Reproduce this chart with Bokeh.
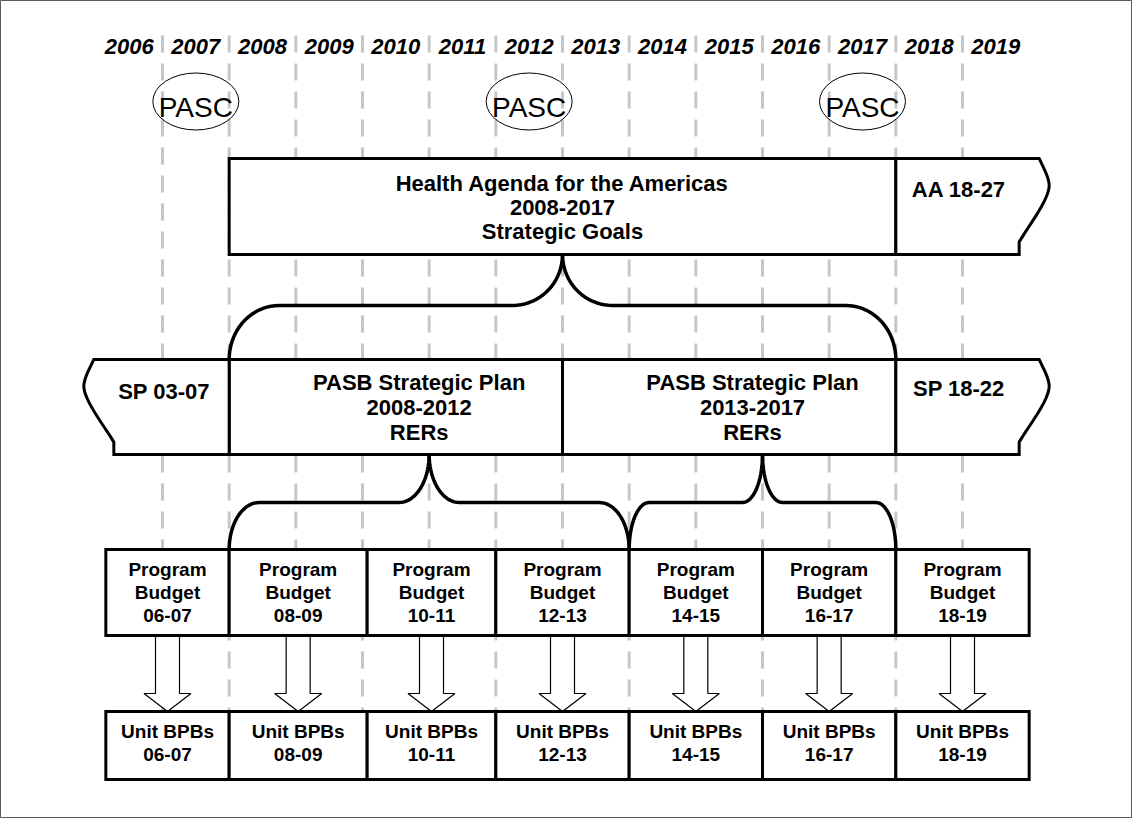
import numpy as np
from bokeh.plotting import figure
from bokeh.models import Range1d
from bokeh.core.properties import value
from bokeh.embed import file_html
from bokeh.resources import INLINE

# ---------------- data ----------------
years = list(range(2006, 2020))
year_labels = [str(y) for y in years]
divider_years = list(range(2007, 2020))
pasc_years = [2007, 2012, 2017]
pasc_text = "PASC"

agenda_start, agenda_end, agenda_cusp = 2008, 2018, 2013
agenda_lines = ["Health Agenda for the Americas", "2008-2017", "Strategic Goals"]
agenda_next_label = "AA 18-27"
agenda_next_end = 2019.85

sp_prev_label = "SP 03-07"
sp_prev_start = 2006.27
sp_starts = [2008, 2013]
sp_ends = [2013, 2018]
sp_titles = ["PASB Strategic Plan", "PASB Strategic Plan"]
sp_periods = ["2008-2012", "2013-2017"]
sp_results = ["RERs", "RERs"]
sp_next_label = "SP 18-22"
sp_next_end = 2019.85

pb_starts = [2006.15, 2008, 2010.07, 2012, 2014, 2016, 2018]
pb_ends = [2008, 2010.07, 2012, 2014, 2016, 2018, 2020]
pb_periods = ["06-07", "08-09", "10-11", "12-13", "14-15", "16-17", "18-19"]
pb_title = ["Program", "Budget"]
unit_title = "Unit BPBs"

brace_left = [2008, 2008, 2014]
brace_cusp = [2013, 2011, 2016]
brace_right = [2018, 2014, 2018]

# ---------------- layout ----------------
PX = 66.667            # pixels per year
W, H = 1132, 818
x_lo = 2007 + (8 - 170) / PX
x_hi = x_lo + W / PX

ROW_AG = (166, 262)
ROW_SP = (367, 462)
ROW_PB = (557, 643)
ROW_UN = (719, 787)
FONT = value("Liberation Sans")
TY = -7   # baseline correction for text placement

p = figure(width=W, height=H, x_range=Range1d(x_lo, x_hi), y_range=Range1d(8 + H, 8),
           x_axis_type=None, y_axis_type=None, toolbar_location=None,
           output_backend="svg", min_border=0)
p.grid.visible = False
p.outline_line_color = "#5a5a5a"
p.outline_line_width = 1
p.background_fill_color = "white"

# dashed year dividers
p.segment(x0=divider_years, y0=43, x1=divider_years, y1=790,
          line_color="#c6c6c6", line_width=3, line_dash="17 11")

# year labels
p.text(x=[y + 0.5 for y in years], y=[61 + TY] * len(years), text=year_labels,
       text_font=FONT, text_font_size="22px", text_font_style="bold italic",
       text_align="center", text_baseline="alphabetic", text_color="black")

# PASC ellipses
p.ellipse(x=[y + 0.5 for y in pasc_years], y=[109] * 3, width=86 / PX, height=57,
          fill_alpha=0, line_color="black", line_width=1)
p.text(x=[y + 0.5 for y in pasc_years], y=[120 - 5] * 3, text=[pasc_text] * 3,
       text_font=FONT, text_font_size="28px", text_align="center",
       text_baseline="alphabetic", text_color="black")


def bez(P0, P1, P2, P3, n=16):
    s = np.linspace(0, 1, n)
    b = [(1 - s) ** 3, 3 * s * (1 - s) ** 2, 3 * s ** 2 * (1 - s), s ** 3]
    o = b[0] * P0[0] + b[1] * P1[0] + b[2] * P2[0] + b[3] * P3[0]
    t = b[0] * P0[1] + b[1] * P1[1] + b[2] * P2[1] + b[3] * P3[1]
    return o, t


o1, t1 = bez((20, 0), (24, 0.09), (29, 0.18), (30, 0.27))
o2, t2 = bez((30, 0.27), (31, 0.42), (8, 0.72), (0, 0.87))
w_off = np.concatenate([o1, o2[1:], [0.0]])
w_t = np.concatenate([t1, t2[1:], [1.0]])


def right_wave(xs, base, row):
    top, bot = row
    xx = [xs] + list(base + w_off / PX) + [xs]
    yy = [top] + list(top + w_t * (bot - top)) + [bot]
    return xx, yy


def left_wave(base, xe, row):
    top, bot = row
    xx = [xe] + list(base - w_off / PX) + [xe]
    yy = [top] + list(top + w_t * (bot - top)) + [bot]
    return xx, yy


# arrows between program budgets and unit BPBs
ax, ay = [], []
hw, hh = 12 / PX, 23.5 / PX
for s, e in zip(pb_starts, pb_ends):
    c = (s + e) / 2
    ax.append([c - hw, c + hw, c + hw, c + hh, c, c - hh, c - hw])
    ay.append([ROW_PB[1], ROW_PB[1], 701, 701, ROW_UN[0], 701, 701])
p.patches(ax, ay, fill_color="white", line_color="black", line_width=1.2)

# boxes
box_style = dict(fill_color="white", line_color="black", line_width=3, line_join="miter")
p.quad(left=[agenda_start], right=[agenda_end], top=[ROW_AG[0]], bottom=[ROW_AG[1]], **box_style)
p.quad(left=sp_starts, right=sp_ends, top=[ROW_SP[0]] * 2, bottom=[ROW_SP[1]] * 2, **box_style)
p.quad(left=pb_starts, right=pb_ends, top=[ROW_PB[0]] * 7, bottom=[ROW_PB[1]] * 7, **box_style)
p.quad(left=pb_starts, right=pb_ends, top=[ROW_UN[0]] * 7, bottom=[ROW_UN[1]] * 7, **box_style)

wx, wy = [], []
for xx, yy in [right_wave(agenda_end, agenda_next_end, ROW_AG),
               right_wave(sp_ends[-1], sp_next_end, ROW_SP),
               left_wave(sp_prev_start, sp_starts[0], ROW_SP)]:
    wx.append(xx)
    wy.append(yy)
p.patches(wx, wy, **box_style)

# braces
bx, by = [], []
rows = [(ROW_AG[1], 313, ROW_SP[0]), (ROW_SP[1], 510, ROW_PB[0]), (ROW_SP[1], 510, ROW_PB[0])]
th = np.linspace(0, np.pi / 2, 20)
for x0, xm, x1, (ytop, ymid, ybot) in zip(brace_left, brace_cusp, brace_right, rows):
    for side in (-1, 1):
        xend = x0 if side < 0 else x1
        rx = 0.15 * abs(xm - xend)
        ry1 = ybot - ymid
        ry2 = ymid - ytop
        cx = xend + (-side) * (rx - rx * np.cos(th))
        cy = ybot - ry1 * np.sin(th)
        kx = xm + side * rx - side * rx * np.sin(th)
        ky = ytop + ry2 * np.cos(th)
        bx.append(list(cx) + list(kx))
        by.append(list(cy) + list(ky))
p.multi_line(bx, by, line_color="black", line_width=3.5, line_join="round")

# texts
bold = dict(text_font=FONT, text_font_style="bold", text_align="center",
            text_baseline="alphabetic", text_color="black")
p.text(x=[agenda_cusp] * 3, y=[198 + TY, 222 + TY, 246 + TY], text=agenda_lines,
       text_font_size="22px", **bold)
p.text(x=[(agenda_end + agenda_next_end) / 2 + 0.02], y=[204 + TY], text=[agenda_next_label],
       text_font_size="22px", **bold)
p.text(x=[(sp_ends[-1] + sp_next_end) / 2 + 0.02], y=[403 + TY], text=[sp_next_label],
       text_font_size="22px", **bold)
p.text(x=[(sp_prev_start - 15 / PX + sp_starts[0]) / 2], y=[406 + TY], text=[sp_prev_label],
       text_font_size="22px", **bold)
tx, ty, tt = [], [], []
for i in range(2):
    c = sp_starts[i] + 2.85
    for yy, tx_ in zip([397, 422, 447], [sp_titles[i], sp_periods[i], sp_results[i]]):
        tx.append(c)
        ty.append(yy + TY)
        tt.append(tx_)
p.text(x=tx, y=ty, text=tt, text_font_size="22px", **bold)

px_, py_, pt_ = [], [], []
ux, uy, ut = [], [], []
for s, e, per in zip(pb_starts, pb_ends, pb_periods):
    c = (s + e) / 2
    for yy, tx_ in zip([584, 607, 630], pb_title + [per]):
        px_.append(c)
        py_.append(yy + TY)
        pt_.append(tx_)
    for yy, tx_ in zip([746, 769], [unit_title, per]):
        ux.append(c)
        uy.append(yy + TY)
        ut.append(tx_)
p.text(x=px_, y=py_, text=pt_, text_font_size="19px", **bold)
p.text(x=ux, y=uy, text=ut, text_font_size="19px", **bold)

open("out.html", "w").write(file_html(p, INLINE))
